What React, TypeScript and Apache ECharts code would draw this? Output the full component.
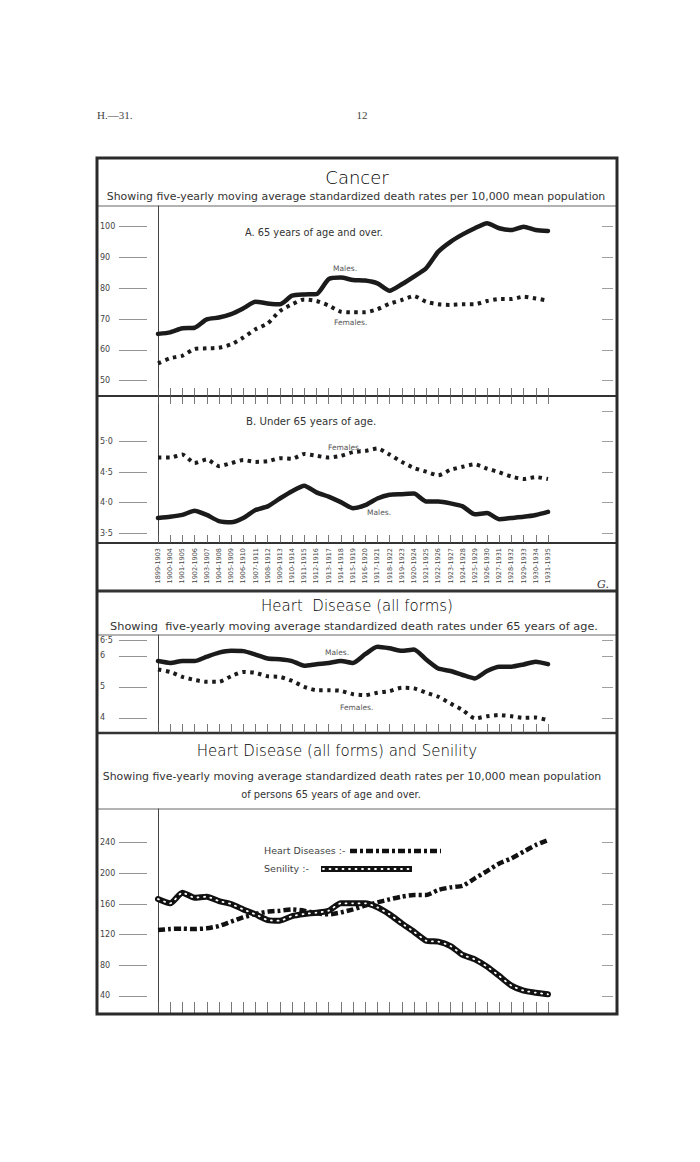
import React, { useEffect, useRef } from "react";
import * as echarts from "echarts";

// ---------- data ----------
const periods = [
  "1899-1903", "1900-1904", "1901-1905", "1902-1906", "1903-1907", "1904-1908",
  "1905-1909", "1906-1910", "1907-1911", "1908-1912", "1909-1913", "1910-1914",
  "1911-1915", "1912-1916", "1913-1917", "1914-1918", "1915-1919", "1916-1920",
  "1917-1921", "1918-1922", "1919-1923", "1920-1924", "1921-1925", "1922-1926",
  "1923-1927", "1924-1928", "1925-1929", "1926-1930", "1927-1931", "1928-1932",
  "1929-1933", "1930-1934", "1931-1935",
];

// Cancer, 65 years of age and over
const cancerOldMales = [65.2, 65.7, 67.0, 67.2, 69.9, 70.5, 71.6, 73.5, 75.6, 75.1, 74.8, 77.6, 78.0, 78.1, 83.0, 83.5, 82.7, 82.5, 81.6, 79.2, 81.3, 83.8, 86.5, 91.9, 95.1, 97.5, 99.5, 101.1, 99.5, 98.9, 100.0, 98.9, 98.6];
const cancerOldFemales = [55.6, 57.3, 58.1, 60.3, 60.5, 60.7, 61.8, 64.0, 66.7, 68.6, 72.6, 74.8, 76.4, 75.9, 74.4, 72.4, 72.2, 72.2, 73.2, 75.0, 76.2, 77.5, 75.6, 74.8, 74.6, 74.8, 74.8, 75.9, 76.5, 76.5, 77.3, 76.7, 76.0];

// Cancer, under 65 years of age
const cancerYoungFemales = [4.74, 4.74, 4.79, 4.65, 4.71, 4.60, 4.65, 4.70, 4.67, 4.68, 4.73, 4.72, 4.80, 4.77, 4.74, 4.77, 4.83, 4.85, 4.89, 4.79, 4.67, 4.57, 4.51, 4.45, 4.54, 4.59, 4.63, 4.56, 4.50, 4.43, 4.39, 4.42, 4.39];
const cancerYoungMales = [3.75, 3.77, 3.80, 3.87, 3.80, 3.70, 3.68, 3.75, 3.88, 3.94, 4.07, 4.19, 4.28, 4.17, 4.10, 4.01, 3.91, 3.96, 4.07, 4.13, 4.14, 4.15, 4.02, 4.02, 3.99, 3.94, 3.81, 3.83, 3.73, 3.75, 3.77, 3.80, 3.85];

// Heart disease (all forms), under 65 years of age
const heartMales = [5.83, 5.77, 5.83, 5.83, 5.97, 6.10, 6.16, 6.15, 6.04, 5.91, 5.89, 5.83, 5.68, 5.73, 5.77, 5.83, 5.77, 6.05, 6.29, 6.24, 6.16, 6.20, 5.88, 5.59, 5.51, 5.38, 5.27, 5.51, 5.65, 5.65, 5.72, 5.81, 5.73];
const heartFemales = [5.56, 5.48, 5.32, 5.22, 5.16, 5.16, 5.34, 5.48, 5.45, 5.34, 5.32, 5.19, 5.00, 4.89, 4.89, 4.87, 4.76, 4.73, 4.81, 4.86, 4.97, 4.95, 4.81, 4.68, 4.46, 4.25, 3.98, 4.05, 4.09, 4.05, 4.00, 4.01, 3.92];

// Heart disease and senility, persons 65 and over
const heartOld = [126.1, 127.4, 127.8, 127.4, 128.3, 131.3, 137.0, 142.6, 147.0, 150.0, 151.3, 153.0, 151.3, 147.8, 146.5, 149.1, 153.0, 158.0, 162.2, 166.1, 169.6, 171.7, 171.7, 178.3, 181.7, 183.9, 193.5, 203.0, 213.0, 219.6, 228.3, 237.0, 243.5];
const senility = [166.5, 160.9, 174.8, 168.3, 169.6, 163.9, 160.0, 153.0, 146.5, 139.1, 138.3, 144.3, 147.0, 148.7, 151.3, 160.9, 160.9, 160.9, 155.7, 146.5, 134.8, 123.9, 112.2, 110.9, 105.2, 93.5, 87.8, 78.3, 66.1, 53.5, 47.0, 44.3, 42.2];

// tick labels
const cancerOldTicks = [50, 60, 70, 80, 90, 100];
const cancerYoungTicks = [3.5, 4, 4.5, 5];
const cancerYoungRightTicks = [3.5, 4, 4.5, 5, 5.5];
const heartYoungTicks = [4, 5, 6, 6.5];
const heartOldTicks = [40, 80, 120, 160, 200, 240];

// ---------- layout ----------
const FRAME_L = 97;
const FRAME_R = 617;
const FRAME_T = 158;
const FRAME_B = 1014;
const GRID_L = 158;
const GRID_R = 700 - 548;

const TITLE_FONT = "'DejaVu Sans', 'Open Sans', sans-serif";
const SMALL_FONT = "'DejaVu Sans', sans-serif";

const dotFmt = (v: number) => v.toFixed(1).replace(".", "·");

const panels = [
  { top: 206, bottom: 396, min: 45.03, max: 106.72, ticks: cancerOldTicks, right: cancerOldTicks, fmt: (v: number) => String(v), tickLen: 8, topTicks: false, years: false },
  { top: 396, bottom: 543, min: 3.34, max: 5.75, ticks: cancerYoungTicks, right: cancerYoungRightTicks, fmt: dotFmt, tickLen: 8, topTicks: true, years: true },
  { top: 635, bottom: 733, min: 3.51, max: 6.67, ticks: heartYoungTicks, right: heartYoungTicks, fmt: (v: number) => (v === 6.5 ? "6·5" : String(v)), tickLen: 9, topTicks: false, years: false },
  { top: 809, bottom: FRAME_B, min: 16.5, max: 284, ticks: heartOldTicks, right: heartOldTicks, fmt: (v: number) => String(v), tickLen: 12, topTicks: false, years: false },
];

function buildOption() {
  const grid: any[] = [];
  const xAxis: any[] = [];
  const yAxis: any[] = [];
  const xMain: number[] = [];
  const yMain: number[] = [];

  panels.forEach((p, i) => {
    grid.push({ left: GRID_L, right: GRID_R, top: p.top, height: p.bottom - p.top, containLabel: false });
    const xBase = {
      gridIndex: i,
      type: "category",
      data: periods,
      boundaryGap: false,
      axisLine: { show: false },
      axisTick: { show: true, inside: true, interval: 0, length: p.tickLen, lineStyle: { color: "#555", width: 0.8 } },
      splitLine: { show: false },
    };
    xMain[i] = xAxis.length;
    xAxis.push({
      ...xBase,
      position: "bottom",
      axisLabel: p.years
        ? { show: true, interval: 0, rotate: 90, fontSize: 6.5, color: "#444", margin: 5, fontFamily: SMALL_FONT }
        : { show: false },
    });
    if (p.topTicks) {
      xAxis.push({ ...xBase, position: "top", axisLabel: { show: false } });
    }
    yMain[i] = yAxis.length;
    yAxis.push({
      gridIndex: i,
      type: "value",
      min: p.min,
      max: p.max,
      position: "left",
      axisLine: { show: true, lineStyle: { color: "#444", width: 1 } },
      axisTick: { show: false },
      axisLabel: { show: false },
      splitLine: { show: false },
    });
    yAxis.push({
      gridIndex: i,
      type: "value",
      min: p.min,
      max: p.max,
      position: "left",
      offset: 11,
      axisLine: { show: false },
      axisTick: { show: true, length: 28, customValues: p.ticks, lineStyle: { color: "#777", width: 0.8 } },
      axisLabel: {
        show: true,
        customValues: p.ticks,
        align: "left",
        margin: 47,
        formatter: (v: number) => p.fmt(v),
        fontSize: 8,
        color: "#444",
        fontFamily: SMALL_FONT,
      },
      splitLine: { show: false },
    });
    yAxis.push({
      gridIndex: i,
      type: "value",
      min: p.min,
      max: p.max,
      position: "right",
      offset: 65,
      axisLine: { show: false },
      axisTick: { show: true, inside: true, length: 11, customValues: p.right, lineStyle: { color: "#888", width: 0.8 } },
      axisLabel: { show: false },
      splitLine: { show: false },
    });
  });

  const males = { color: "#1b1b1b", width: 4.5, cap: "round", join: "round" };
  const females = { color: "#1b1b1b", width: 4, type: [3.5, 4.5], cap: "butt", join: "round" };

  const line = (name: string, data: number[], i: number, lineStyle: any, z = 3) => ({
    type: "line",
    name,
    data,
    xAxisIndex: xMain[i],
    yAxisIndex: yMain[i],
    symbol: "none",
    smooth: 0.2,
    silent: true,
    lineStyle,
    z,
  });

  const series = [
    line("Males 65+", cancerOldMales, 0, males),
    line("Females 65+", cancerOldFemales, 0, females),
    line("Females <65", cancerYoungFemales, 1, females),
    line("Males <65", cancerYoungMales, 1, males),
    line("Heart males", heartMales, 2, males),
    line("Heart females", heartFemales, 2, females),
    line("Heart Diseases", heartOld, 3, { color: "#111", width: 4.5, type: [7, 3, 3, 3], cap: "butt" }),
    line("Senility", senility, 3, { color: "#111", width: 6, cap: "round", join: "round" }, 4),
    line("Senility dots", senility, 3, { color: "#fff", width: 1.8, type: [1, 5.5], cap: "round" }, 5),
  ];

  const txt = (text: string, x: number, y: number, size: number, opts: any = {}) => ({
    type: "text",
    x,
    y,
    silent: true,
    style: {
      text,
      fontSize: size,
      fontFamily: opts.font || TITLE_FONT,
      fontWeight: opts.weight || "normal",
      fontStyle: opts.italic ? "italic" : "normal",
      fill: opts.fill || "#222",
      align: opts.align || "left",
      textAlign: opts.align || "left",
      verticalAlign: "middle",
      textVerticalAlign: "middle",
    },
  });
  const hline = (y: number, w: number, color = "#333") => ({
    type: "line",
    silent: true,
    shape: { x1: FRAME_L, y1: y, x2: FRAME_R, y2: y },
    style: { stroke: color, lineWidth: w },
  });

  const graphic: any[] = [
    txt("H.—31.", 97, 115, 11, { font: "'Liberation Serif', serif", fill: "#444" }),
    txt("12", 362, 115, 11, { font: "'Liberation Serif', serif", fill: "#444", align: "center" }),
    {
      type: "rect",
      silent: true,
      shape: { x: FRAME_L, y: FRAME_T, width: FRAME_R - FRAME_L, height: FRAME_B - FRAME_T },
      style: { fill: "none", stroke: "#2a2a2a", lineWidth: 3 },
      z: 10,
    },
    hline(206, 1, "#666"),
    hline(396, 2),
    hline(543, 2),
    hline(591, 3),
    hline(635, 1, "#666"),
    hline(733, 2.5),
    hline(809, 1, "#666"),

    txt("Cancer", 357, 177, 18, { align: "center", weight: 300, fill: "#000" }),
    txt("Showing five-yearly moving average standardized death rates per 10,000 mean population", 356, 196, 10.9, { align: "center", fill: "#333" }),
    txt("A. 65 years of age and over.", 245, 232, 9.8, { fill: "#333" }),
    txt("Males.", 333, 268, 7.5, { fill: "#555" }),
    txt("Females.", 334, 322, 7.5, { fill: "#555" }),
    txt("B. Under 65 years of age.", 246, 421, 10.2, { fill: "#333" }),
    txt("Females.", 328, 447, 7.5, { fill: "#555" }),
    txt("Males.", 367, 512, 7.5, { fill: "#555" }),
    txt("G.", 597, 584, 11, { font: "'DejaVu Serif', serif", italic: true, fill: "#333" }),

    txt("Heart  Disease (all forms)", 357, 606, 15, { align: "center", weight: 300, fill: "#000" }),
    txt("Showing  five-yearly moving average standardized death rates under 65 years of age.", 354, 626, 11.3, { align: "center", fill: "#333" }),
    txt("Males.", 325, 652, 7.5, { fill: "#555" }),
    txt("Females.", 340, 707, 7.5, { fill: "#555" }),

    txt("Heart Disease (all forms) and Senility", 337, 751, 15, { align: "center", weight: 300, fill: "#000" }),
    txt("Showing five-yearly moving average standardized death rates per 10,000 mean population", 352, 776, 10.9, { align: "center", fill: "#333" }),
    txt("of persons 65 years of age and over.", 331, 794, 9.8, { align: "center", fill: "#333" }),
    txt("Heart Diseases :-", 264, 850, 9.5, { fill: "#444" }),
    txt("Senility :-", 264, 868, 9.5, { fill: "#444" }),
    {
      type: "line",
      silent: true,
      shape: { x1: 350, y1: 851, x2: 441, y2: 851 },
      style: { stroke: "#111", lineWidth: 4.5, lineDash: [7, 3, 3, 3] },
    },
    {
      type: "line",
      silent: true,
      shape: { x1: 321, y1: 869, x2: 412, y2: 869 },
      style: { stroke: "#111", lineWidth: 6 },
    },
    {
      type: "line",
      silent: true,
      shape: { x1: 323, y1: 869, x2: 412, y2: 869 },
      style: { stroke: "#fff", lineWidth: 1.8, lineDash: [1, 5.5], lineCap: "round" },
    },
  ];

  return {
    animation: false,
    backgroundColor: "#fff",
    grid,
    xAxis,
    yAxis,
    series,
    graphic,
  };
}

export default function App() {
  const ref = useRef<HTMLDivElement>(null);
  useEffect(() => {
    if (!ref.current) return;
    const chart = echarts.init(ref.current, null, { renderer: "svg" });
    chart.setOption(buildOption() as any);
    return () => chart.dispose();
  }, []);
  return (
    <div
      ref={ref}
      style={{ position: "absolute", left: 0, top: 0, width: 700, height: 1162, background: "#fff" }}
    />
  );
}
